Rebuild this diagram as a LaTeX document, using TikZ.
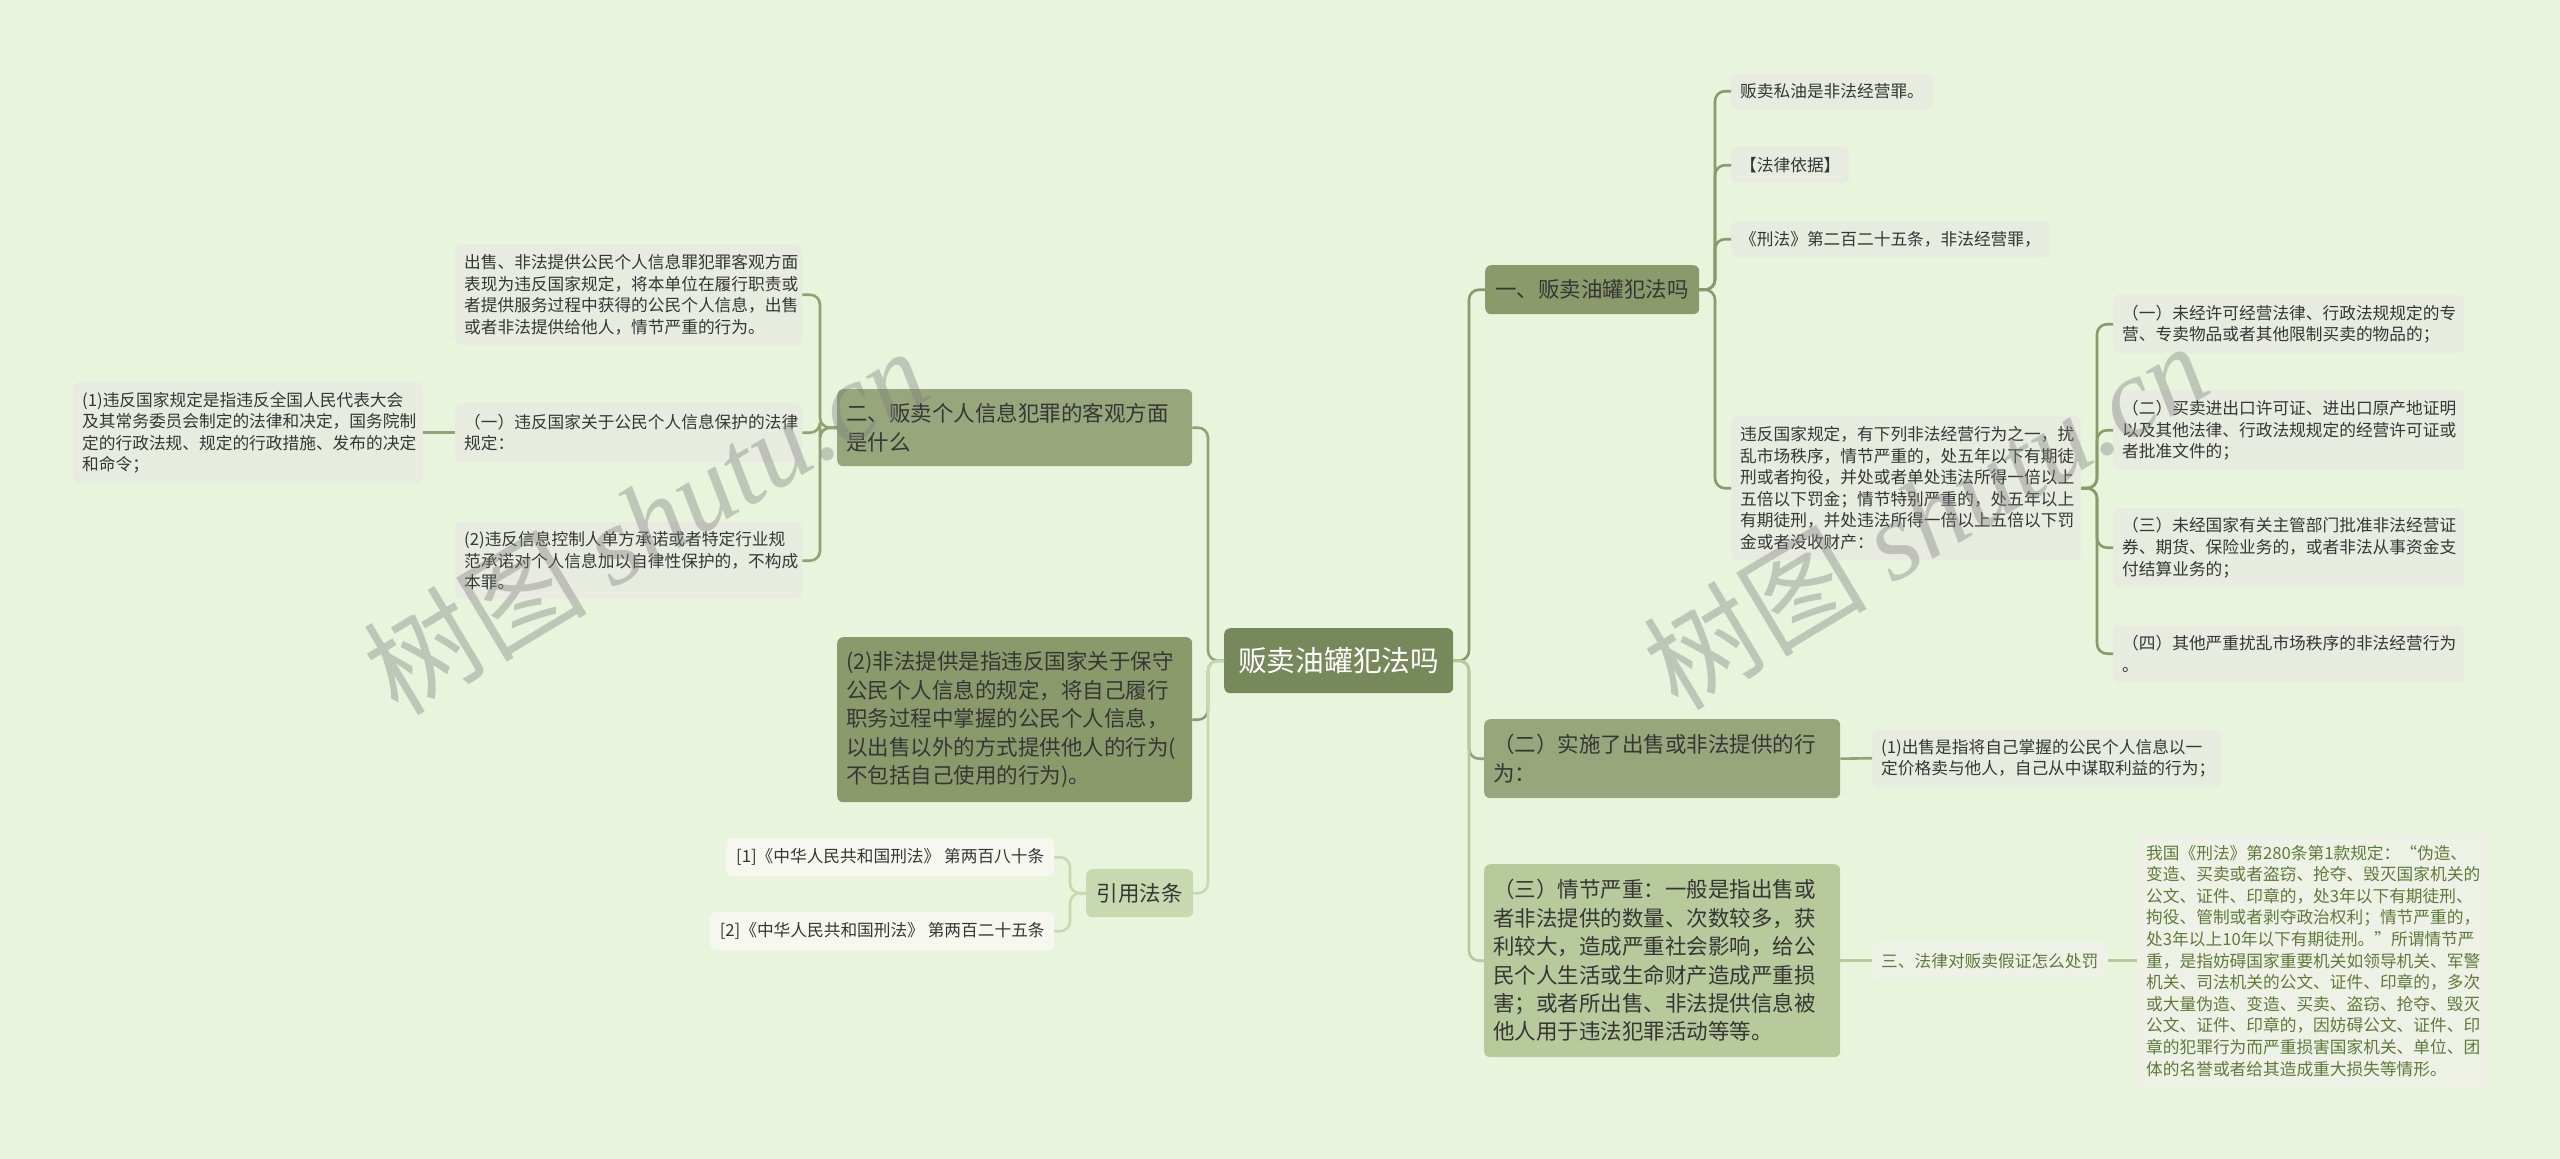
\documentclass[tikz,border=0pt]{standalone}
\usepackage{fontspec}
\setmainfont{Noto Sans CJK SC}
\newfontfamily\wmlatin{Liberation Serif}
\definecolor{bgc}{HTML}{E8F5DC}
\definecolor{rootc}{HTML}{77885A}
\definecolor{darkc}{HTML}{8B9A6B}
\definecolor{midc}{HTML}{97A67B}
\definecolor{lightc}{HTML}{B8C99B}
\definecolor{refc}{HTML}{C9D9AF}
\definecolor{greyc}{HTML}{E8EBE0}
\definecolor{whitec}{HTML}{F6F8F0}
\definecolor{paleC}{HTML}{EEF2E6}
\definecolor{txt}{HTML}{363636}
\definecolor{greentxt}{HTML}{5F7A3A}
\definecolor{lnDark}{HTML}{8A9A6A}
\definecolor{lnMid}{HTML}{92A272}
\definecolor{lnLight}{HTML}{B8C99B}
\definecolor{lnRef}{HTML}{C9D9AF}
\definecolor{wmc}{HTML}{808080}
\begin{document}
\begin{tikzpicture}[x=1pt,y=-1pt,
  box/.style={rounded corners=6pt, inner xsep=9pt, inner ysep=0pt, anchor=north west, align=left, text=txt},
  small/.style={box, font=\fontsize{16.7}{21.6}\selectfont},
  big/.style={box, font=\fontsize{21.5}{28.4}\selectfont},
  conn/.style={line width=2.6pt, rounded corners=10pt},
]
\fill[bgc] (0,0) rectangle (2560,1159);
\useasboundingbox (0,0) rectangle (2560,1159);

% ---------- root ----------
\node[box, fill=rootc, text=white, align=center, font=\fontsize{28.7}{34}\selectfont,
  minimum width=229pt, minimum height=65pt] (root) at (1224,628) {贩卖油罐犯法吗};

% ---------- left side ----------
\node[big, fill=midc, text width=337pt, minimum height=77pt] (n2) at (837,389)
  {二、贩卖个人信息犯罪的客观方面\\是什么};
\node[big, fill=darkc, text width=337pt, minimum height=165pt] (n2b) at (837,637)
  {(2)非法提供是指违反国家关于保守\\公民个人信息的规定，将自己履行\\职务过程中掌握的公民个人信息，\\以出售以外的方式提供他人的行为(\\不包括自己使用的行为)。};
\node[box, fill=refc, align=center, font=\fontsize{21.5}{26}\selectfont,
  minimum width=107pt, minimum height=48pt] (ref) at (1086,869) {引用法条};

\node[small, fill=greyc, text width=329pt, minimum height=101pt] (lt1) at (455,244)
  {出售、非法提供公民个人信息罪犯罪客观方面\\表现为违反国家规定，将本单位在履行职责或\\者提供服务过程中获得的公民个人信息，出售\\或者非法提供给他人，情节严重的行为。};
\node[small, fill=greyc, text width=329pt, minimum height=59pt] (lt2) at (455,403)
  {（一）违反国家关于公民个人信息保护的法律\\规定：};
\node[small, fill=greyc, text width=329pt, minimum height=77pt] (lt3) at (455,522)
  {(2)违反信息控制人单方承诺或者特定行业规\\范承诺对个人信息加以自律性保护的，不构成\\本罪。};
\node[small, fill=greyc, text width=332pt, minimum height=101pt] (lt4) at (73,382)
  {(1)违反国家规定是指违反全国人民代表大会\\及其常务委员会制定的法律和决定，国务院制\\定的行政法规、规定的行政措施、发布的决定\\和命令；};

\node[small, fill=whitec, align=center, inner xsep=6pt, minimum width=328pt, minimum height=38pt] (r1) at (726,838)
  {[1]《中华人民共和国刑法》 第两百八十条};
\node[small, fill=whitec, align=center, inner xsep=6pt, minimum width=344pt, minimum height=38pt] (r2) at (710,912)
  {[2]《中华人民共和国刑法》 第两百二十五条};

% ---------- right side ----------
\node[big, fill=darkc, align=center, minimum width=214pt, minimum height=49pt] (n1) at (1485,265)
  {一、贩卖油罐犯法吗};
\node[big, fill=midc, text width=338pt, minimum height=79pt] (n3) at (1484,719)
  {（二）实施了出售或非法提供的行\\为：};
\node[big, fill=lightc, text width=338pt, minimum height=193pt] (n4) at (1484,864)
  {（三）情节严重：一般是指出售或\\者非法提供的数量、次数较多，获\\利较大，造成严重社会影响，给公\\民个人生活或生命财产造成严重损\\害；或者所出售、非法提供信息被\\他人用于违法犯罪活动等等。};

\node[small, fill=greyc, align=center, minimum width=199pt, minimum height=36pt] (a1) at (1731,73)
  {贩卖私油是非法经营罪。};
\node[small, fill=greyc, align=center, minimum width=116pt, minimum height=36pt] (a2) at (1731,147)
  {【法律依据】};
\node[small, fill=greyc, align=center, minimum width=316pt, minimum height=36pt] (a3) at (1731,221)
  {《刑法》第二百二十五条，非法经营罪，};
\node[small, fill=greyc, text width=332pt, minimum height=144pt] (a4) at (1731,416)
  {违反国家规定，有下列非法经营行为之一，扰\\乱市场秩序，情节严重的，处五年以下有期徒\\刑或者拘役，并处或者单处违法所得一倍以上\\五倍以下罚金；情节特别严重的，处五年以上\\有期徒刑，并处违法所得一倍以上五倍以下罚\\金或者没收财产：};

\node[small, fill=greyc, text width=333pt, minimum height=58pt] (b1) at (2113,295)
  {（一）未经许可经营法律、行政法规规定的专\\营、专卖物品或者其他限制买卖的物品的；};
\node[small, fill=greyc, text width=333pt, minimum height=80pt] (b2) at (2113,390)
  {（二）买卖进出口许可证、进出口原产地证明\\以及其他法律、行政法规规定的经营许可证或\\者批准文件的；};
\node[small, fill=greyc, text width=333pt, minimum height=79pt] (b3) at (2113,508)
  {（三）未经国家有关主管部门批准非法经营证\\券、期货、保险业务的，或者非法从事资金支\\付结算业务的；};
\node[small, fill=greyc, text width=333pt, minimum height=57pt] (b4) at (2113,625)
  {（四）其他严重扰乱市场秩序的非法经营行为\\。};

\node[small, fill=greyc, text width=331pt, minimum height=58pt] (c1) at (1872,729)
  {(1)出售是指将自己掌握的公民个人信息以一\\定价格卖与他人，自己从中谋取利益的行为；};

\node[small, fill=paleC, text=greentxt, align=center, minimum width=233pt, minimum height=37pt] (d1) at (1872,942)
  {三、法律对贩卖假证怎么处罚};
\node[small, fill=paleC, text=greentxt, text width=332pt, minimum height=253pt] (d2) at (2137,834)
  {我国《刑法》第280条第1款规定：“伪造、\\变造、买卖或者盗窃、抢夺、毁灭国家机关的\\公文、证件、印章的，处3年以下有期徒刑、\\拘役、管制或者剥夺政治权利；情节严重的，\\处3年以上10年以下有期徒刑。”所谓情节严\\重，是指妨碍国家重要机关如领导机关、军警\\机关、司法机关的公文、证件、印章的，多次\\或大量伪造、变造、买卖、盗窃、抢夺、毁灭\\公文、证件、印章的，因妨碍公文、证件、印\\章的犯罪行为而严重损害国家机关、单位、团\\体的名誉或者给其造成重大损失等情形。};

% ---------- junction coordinates ----------
\coordinate (xL1) at (1208,0);
\coordinate (xL2) at (820,0);
\coordinate (xL3) at (1070,0);
\coordinate (xR1) at (1469,0);
\coordinate (xR2) at (1715,0);
\coordinate (xR3) at (2097,0);

% ---------- connectors ----------
\draw[conn, lnMid] (root.west) -- (xL1 |- root.west) |- (n2.east);
\draw[conn, lnDark] (root.west) -- (xL1 |- root.west) |- (n2b.east);
\draw[conn, lnRef] (root.west) -- (xL1 |- root.west) |- (ref.east);

\draw[conn, lnMid] (n2.west) -- (xL2 |- n2.west) |- (lt1.east);
\draw[conn, lnMid] (n2.west) -- (xL2 |- n2.west) |- (lt2.east);
\draw[conn, lnMid] (n2.west) -- (xL2 |- n2.west) |- (lt3.east);
\draw[conn, lnMid] (lt2.west) -- (lt4.east);

\draw[conn, lnRef] (ref.west) -- (xL3 |- ref.west) |- (r1.east);
\draw[conn, lnRef] (ref.west) -- (xL3 |- ref.west) |- (r2.east);

\draw[conn, lnDark] (root.east) -- (xR1 |- root.east) |- (n1.west);
\draw[conn, lnMid] (root.east) -- (xR1 |- root.east) |- (n3.west);
\draw[conn, lnLight] (root.east) -- (xR1 |- root.east) |- (n4.west);

\draw[conn, lnDark] (n1.east) -- (xR2 |- n1.east) |- (a1.west);
\draw[conn, lnDark] (n1.east) -- (xR2 |- n1.east) |- (a2.west);
\draw[conn, lnDark] (n1.east) -- (xR2 |- n1.east) |- (a3.west);
\draw[conn, lnDark] (n1.east) -- (xR2 |- n1.east) |- (a4.west);

\draw[conn, lnDark] (a4.east) -- (xR3 |- a4.east) |- (b1.west);
\draw[conn, lnDark] (a4.east) -- (xR3 |- a4.east) |- (b2.west);
\draw[conn, lnDark] (a4.east) -- (xR3 |- a4.east) |- (b3.west);
\draw[conn, lnDark] (a4.east) -- (xR3 |- a4.east) |- (b4.west);

\draw[conn, lnMid] (n3.east) -- (c1.west);
\draw[conn, lnLight] (n4.east) -- (d1.west);
\draw[conn, lnLight] (d1.east) -- (d2.west);

% ---------- watermarks ----------
\node[rotate=31, text=wmc, opacity=0.4, font=\fontsize{112}{120}\selectfont] (wm1) at (645,520)
  {树图 {\wmlatin\itshape shutu.cn}};
\node[rotate=31, text=wmc, opacity=0.4, font=\fontsize{112}{120}\selectfont] (wm2) at (1925,515)
  {树图 {\wmlatin\itshape shutu.cn}};
\end{tikzpicture}
\end{document}
